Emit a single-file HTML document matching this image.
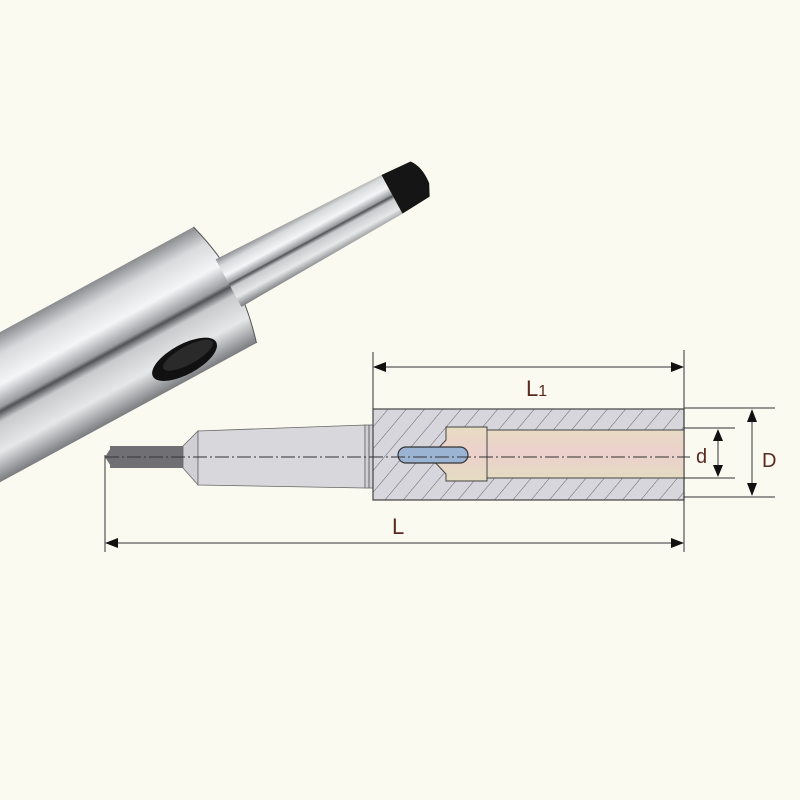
<!DOCTYPE html>
<html><head><meta charset="utf-8"><style>
html,body{margin:0;padding:0;background:#fafaf0;}
svg{display:block}
text{font-family:"Liberation Sans",sans-serif;fill:#5a2a20}
</style></head><body>
<svg width="800" height="800" viewBox="0 0 800 800" xmlns="http://www.w3.org/2000/svg">
<defs>
<linearGradient id="cyl" x1="0" y1="0" x2="0" y2="1">
<stop offset="0" stop-color="#8a8c90"/><stop offset="0.15" stop-color="#d8dadc"/>
<stop offset="0.35" stop-color="#f4f5f6"/><stop offset="0.5" stop-color="#9a9ca0"/>
<stop offset="0.53" stop-color="#505256"/><stop offset="0.6" stop-color="#c8cacc"/>
<stop offset="0.8" stop-color="#e6e7e8"/><stop offset="1" stop-color="#7a7c80"/>
</linearGradient>
<linearGradient id="bore" x1="0" y1="0" x2="0" y2="1">
<stop offset="0" stop-color="#e8dcc4"/><stop offset="0.5" stop-color="#ecd0cc"/><stop offset="1" stop-color="#e4dcc0"/>
</linearGradient>
<pattern id="hatch" width="14" height="14" patternUnits="userSpaceOnUse" patternTransform="rotate(40)">
<rect width="14" height="14" fill="#d6d6dc"/><line x1="0" y1="0" x2="0" y2="14" stroke="#666" stroke-width="1"/>
</pattern>
</defs>
<rect width="800" height="800" fill="#fafaf0"/>
<g transform="translate(225,285) rotate(-28.5)">
<path d="M-420,-66 L0,-66 Q10,-30 10,0 Q10,30 0,66 L-420,66 Z" fill="url(#cyl)"/>
<path d="M0,-66 Q10,-30 10,0 Q10,30 0,66" fill="none" stroke="#555" stroke-width="1"/>
<path d="M4,-27 L190,-22 L190,22 L4,27 Z" fill="url(#cyl)"/>
<path d="M190,-22 L222,-20 Q230,-10 228,8 L222,20 L190,22 Z" fill="#151515"/>
<ellipse cx="-71" cy="46" rx="36" ry="15" fill="#111"/>
<ellipse cx="-66" cy="44" rx="28" ry="9" fill="#2a2a2a"/>
</g>
<rect x="110" y="446" width="73" height="22" fill="#707074"/>
<polygon points="105,457 112,446 112,468" fill="#707074"/>
<polygon points="183,446 198,431 198,485 183,468" fill="#d0d0d4" stroke="#666" stroke-width="0.8"/>
<polygon points="198,431 365,425 365,488 198,485" fill="#d8d8dc" stroke="#666" stroke-width="0.8"/>
<rect x="365" y="425" width="8" height="63" fill="#d0d0d4" stroke="#666" stroke-width="0.8"/>
<line x1="369" y1="425" x2="369" y2="488" stroke="#666"/>
<rect x="373" y="409" width="311" height="91" fill="url(#hatch)" stroke="#444" stroke-width="1.2"/>
<polygon points="430,457 446,440 446,427 487,427 487,430 684,430 684,478 487,478 487,481 446,481 446,474" fill="url(#bore)" stroke="#444" stroke-width="1"/>
<line x1="487" y1="430" x2="487" y2="478" stroke="#444"/>
<rect x="398" y="447" width="70" height="16" rx="8" fill="#9cb4d4" stroke="#333" stroke-width="1.2"/>
<line x1="105" y1="457" x2="690" y2="457" stroke="#333" stroke-width="1" stroke-dasharray="14,3,2,3"/>
<g stroke="#333" stroke-width="1" fill="none">
<line x1="373" y1="352" x2="373" y2="409"/>
<line x1="684" y1="350" x2="684" y2="552"/>
<line x1="105" y1="455" x2="105" y2="552"/>
<line x1="380" y1="367" x2="677" y2="367"/>
<line x1="112" y1="543" x2="677" y2="543"/>
<line x1="684" y1="428" x2="735" y2="428"/>
<line x1="684" y1="478" x2="735" y2="478"/>
<line x1="684" y1="408" x2="775" y2="408"/>
<line x1="684" y1="497" x2="775" y2="497"/>
<line x1="718" y1="436" x2="718" y2="470"/>
<line x1="752" y1="418" x2="752" y2="488"/>
</g>
<g fill="#111">
<polygon points="373,367 386,362 386,372"/><polygon points="684,367 671,362 671,372"/>
<polygon points="105,543 118,538 118,548"/><polygon points="684,543 671,538 671,548"/>
<polygon points="718,429 713,441 723,441"/><polygon points="718,477 713,465 723,465"/>
<polygon points="752,409 747,422 757,422"/><polygon points="752,496 747,483 757,483"/>
</g>
<text x="526" y="396" font-size="22">L<tspan font-size="16">1</tspan></text>
<text x="392" y="534" font-size="22">L</text>
<text x="696" y="463" font-size="20">d</text>
<text x="762" y="467" font-size="20">D</text>
</svg>
</body></html>
